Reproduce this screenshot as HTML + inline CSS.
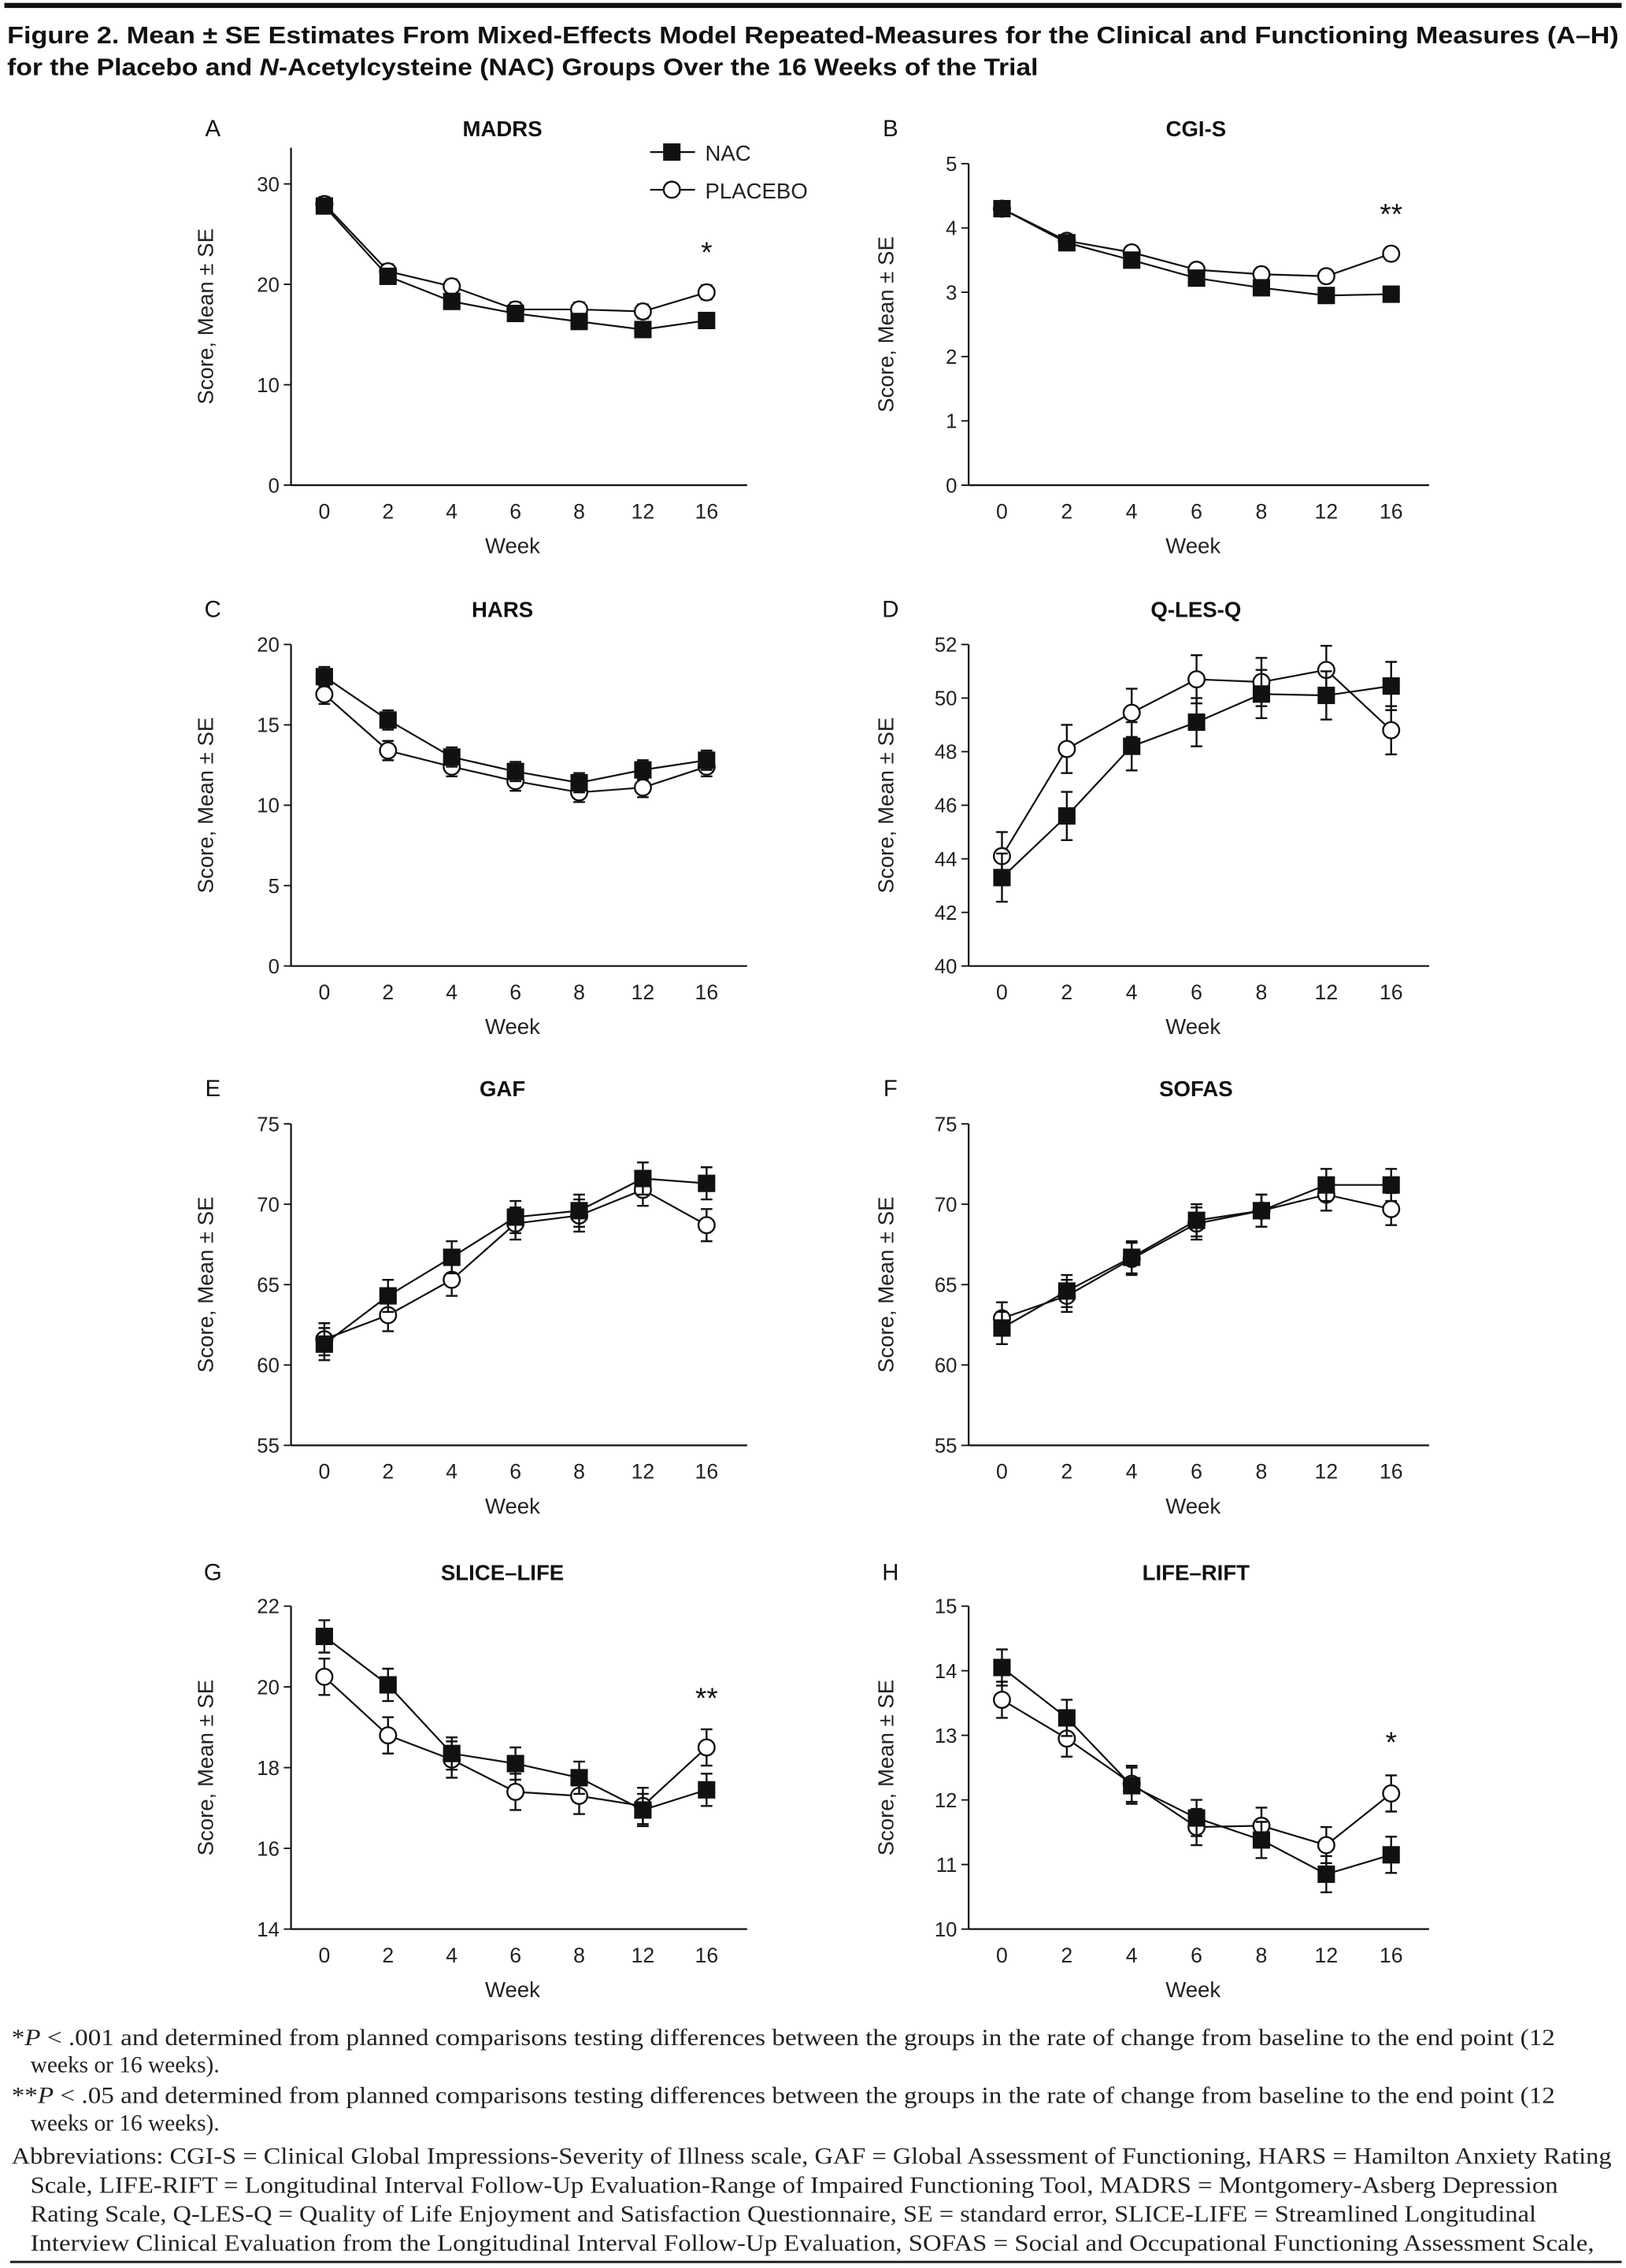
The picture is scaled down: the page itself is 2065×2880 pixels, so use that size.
<!DOCTYPE html>
<html><head><meta charset="utf-8"><style>
html,body{margin:0;padding:0;background:#fff;}
svg{display:block;}
.t{font-family:"Liberation Sans",sans-serif;}
.s{font-family:"Liberation Serif",serif;}
</style></head><body>
<svg id="fig" width="2065" height="2880" viewBox="0 0 1123 1566" preserveAspectRatio="none" xmlns="http://www.w3.org/2000/svg">
<rect x="3" y="2" width="1117" height="3.5" fill="#111"/>
<g class="t" font-weight="bold" font-size="16.5" fill="#111">
<text x="5" y="30" textLength="1113" lengthAdjust="spacingAndGlyphs">Figure 2. Mean ± SE  Estimates From Mixed-Effects Model Repeated-Measures for the Clinical and Functioning Measures (A–H)</text>
<text x="5" y="52" textLength="712" lengthAdjust="spacingAndGlyphs">for the Placebo and <tspan font-style="italic">N</tspan>-Acetylcysteine (NAC) Groups Over the 16 Weeks of the Trial</text>
</g>
<g id="charts"></g>
<g class="s" font-size="16" fill="#222">
<text x="8" y="1412" textLength="1066" lengthAdjust="spacingAndGlyphs">*<tspan font-style="italic">P</tspan> &lt; .001 and determined from planned comparisons testing differences between the groups in the rate of change from baseline to the end point (12</text>
<text x="21" y="1431">weeks or 16 weeks).</text>
<text x="8" y="1452" textLength="1066" lengthAdjust="spacingAndGlyphs">**<tspan font-style="italic">P</tspan> &lt; .05 and determined from planned comparisons testing differences between the groups in the rate of change from baseline to the end point (12</text>
<text x="21" y="1471">weeks or 16 weeks).</text>
<text x="8" y="1494" textLength="1105" lengthAdjust="spacingAndGlyphs">Abbreviations: CGI-S = Clinical Global Impressions-Severity of Illness scale, GAF = Global Assessment of Functioning, HARS = Hamilton Anxiety Rating</text>
<text x="21" y="1514" textLength="1055" lengthAdjust="spacingAndGlyphs">Scale, LIFE-RIFT = Longitudinal Interval Follow-Up Evaluation-Range of Impaired Functioning Tool, MADRS = Montgomery-Asberg Depression</text>
<text x="21" y="1534" textLength="1040" lengthAdjust="spacingAndGlyphs">Rating Scale, Q-LES-Q = Quality of Life Enjoyment and Satisfaction Questionnaire, SE = standard error, SLICE-LIFE = Streamlined Longitudinal</text>
<text x="21" y="1554" textLength="1080" lengthAdjust="spacingAndGlyphs">Interview Clinical Evaluation from the Longitudinal Interval Follow-Up Evaluation, SOFAS = Social and Occupational Functioning Assessment Scale,</text>
</g>
<rect x="7" y="1561" width="1113" height="1.6" fill="#222"/>
</svg>
<script>
const weeks = ["0","2","4","6","8","12","16"];
const panelLetters = ["A","B","C","D","E","F","G","H"];
const panelTitles = ["MADRS","CGI-S","HARS","Q-LES-Q","GAF","SOFAS","SLICE–LIFE","LIFE–RIFT"];
const yMins = [0,0,0,40,55,55,14,10];
const yMaxs = [30,5,20,52,75,75,22,15];
const yStepVals = [10,1,5,2,5,5,2,1];
const nacA = [27.8,20.8,18.3,17.1,16.3,15.5,16.4];
const plaA = [28.0,21.3,19.8,17.5,17.5,17.3,19.2];
const nacB = [4.3,3.77,3.5,3.22,3.07,2.95,2.97];
const plaB = [4.3,3.8,3.62,3.35,3.28,3.25,3.6];
const nacC = [18.0,15.3,13.0,12.1,11.4,12.2,12.8];
const plaC = [16.9,13.4,12.4,11.5,10.8,11.1,12.4];
const nacD = [43.3,45.6,48.2,49.1,50.15,50.1,50.45];
const plaD = [44.1,48.1,49.45,50.7,50.6,51.05,48.8];
const nacE = [61.3,64.3,66.7,69.2,69.6,71.6,71.3];
const plaE = [61.6,63.1,65.3,68.8,69.3,70.9,68.7];
const nacF = [62.3,64.6,66.7,69.0,69.6,71.2,71.2];
const plaF = [62.9,64.3,66.6,68.8,69.6,70.6,69.7];
const nacG = [21.25,20.05,18.35,18.1,17.75,16.95,17.45];
const plaG = [20.25,18.8,18.2,17.4,17.3,17.05,18.5];
const nacH = [14.05,13.27,12.22,11.72,11.38,10.85,11.15];
const plaH = [13.55,12.95,12.25,11.58,11.6,11.3,12.1];
const seNac = [0.7,0.1,0.6,0.9,1.0,1.0,0.4,0.28];
const sePla = [0.7,0.1,0.6,0.9,1.0,1.0,0.45,0.28];
const sigMarks = ["*","**","","","","","**","*"];
const nacAll = [nacA,nacB,nacC,nacD,nacE,nacF,nacG,nacH];
const plaAll = [plaA,plaB,plaC,plaD,plaE,plaF,plaG,plaH];

const NS="http://www.w3.org/2000/svg";
const root=document.getElementById('charts');
function mk(tag,attrs,parent,txt){const e=document.createElementNS(NS,tag);for(const k in attrs)e.setAttribute(k,attrs[k]);if(txt!==undefined)e.textContent=txt;parent.appendChild(e);return e;}

const rowBottoms=[335,667,998,1332];
const rowTops=[113,445,776,1109];
for(let p=0;p<8;p++){
  const col=p%2,row=Math.floor(p/2);
  const ax=col?669:201, x0=col?692:224, dx=col?44.8:44, axEnd=col?987:516;
  const yb=rowBottoms[row], yt=rowTops[row];
  const ymin=yMins[p], ymax=yMaxs[p];
  const yTopLine = p===0 ? 102 : yt;
  const yS=v=>yb-(v-ymin)/(ymax-ymin)*(yb-yt);
  const xS=i=>x0+i*dx;
  const g=mk('g',{},root);
  
  
  const yScale = p===0 ? (v=>yb-v/30*(yb-127)) : yS;
  const lt=mk('text',{x:col?615:147,y:yb-241,'font-size':16,'text-anchor':'middle',class:'t',fill:'#111'},g,panelLetters[p]);
  
  const tt=mk('text',{x:col?826:347,y:yb-241,'font-size':15,'font-weight':'bold','text-anchor':'middle',class:'t',fill:'#111'},g,panelTitles[p]);
  
  const ya=mk('line',{x1:ax,y1:yTopLine,x2:ax,y2:yb,stroke:'#111','stroke-width':1.2},g);
  
  const xa=mk('line',{x1:ax,y1:yb,x2:axEnd,y2:yb,stroke:'#111','stroke-width':1.2},g);
  
  for(let v=ymin;v<=ymax+1e-9;v+=yStepVals[p]){
    const y=yScale(v);
    mk('line',{x1:ax-5,y1:y,x2:ax,y2:y,stroke:'#111','stroke-width':1},g);
    const tl=mk('text',{x:ax-8,y:y+5,'font-size':14,'text-anchor':'end',class:'t',fill:'#222'},g,String(v));
    
  }
  weeks.forEach((w,i)=>{
    const tl=mk('text',{x:xS(i),y:yb+23,'font-size':14.5,'text-anchor':'middle',class:'t',fill:'#222'},g,w);
    
  });
  const xt=mk('text',{x:col?824:354,y:yb+47,'font-size':15,'text-anchor':'middle',class:'t',fill:'#222'},g,'Week');
  
  const cy=(yTopLine+yb)/2, cx=col?617:147;
  const yl=mk('text',{x:cx,y:cy,'font-size':15,'text-anchor':'middle',class:'t',fill:'#222',transform:`rotate(-90 ${cx} ${cy})`},g,'Score, Mean ± SE');
  
  [[plaAll[p],sePla[p],'placebo'],[nacAll[p],seNac[p],'nac']].forEach(([vals,se,nm])=>{
    const sg=mk('g',{},g);
    
    mk('polyline',{points:vals.map((v,i)=>xS(i)+','+yScale(v)).join(' '),fill:'none',stroke:'#111','stroke-width':1.2},sg);
    vals.forEach((v,i)=>{
      const x=xS(i),y1=yScale(v+se),y2=yScale(v-se);
      const eb=mk('path',{d:`M${x},${y1}V${y2}M${x-4},${y1}H${x+4}M${x-4},${y2}H${x+4}`,stroke:'#111','stroke-width':1.3,fill:'none'},sg);
      
    });
    vals.forEach((v,i)=>{
      const x=xS(i),y=yScale(v);
      let m;
      if(nm==='nac') m=mk('rect',{x:x-6,y:y-6,width:12,height:12,fill:'#111'},sg);
      else m=mk('circle',{cx:x,cy:y,r:5.6,fill:'#fff',stroke:'#111','stroke-width':1.3},sg);
      
    });
  });
  if(sigMarks[p]){
    const st=mk('text',{x:xS(6),y:yScale(Math.max(nacAll[p][6],plaAll[p][6])+seNac[p])-16,'font-size':20,'text-anchor':'middle',class:'t',fill:'#111'},g,sigMarks[p]);
    
  }
  if(p===0){
    const lg=mk('g',{},g);
    
    mk('line',{x1:449,y1:105,x2:480,y2:105,stroke:'#111','stroke-width':1.2},lg);
    mk('rect',{x:458,y:99,width:12,height:12,fill:'#111'},lg);
    const l1=mk('text',{x:487,y:111,'font-size':15,class:'t',fill:'#222'},lg,'NAC');
    
    mk('line',{x1:449,y1:131,x2:480,y2:131,stroke:'#111','stroke-width':1.2},lg);
    mk('circle',{cx:464,cy:131,r:5.6,fill:'#fff',stroke:'#111','stroke-width':1.3},lg);
    const l2=mk('text',{x:487,y:137,'font-size':15,class:'t',fill:'#222'},lg,'PLACEBO');
    
  }
}
</script>
</body></html>
